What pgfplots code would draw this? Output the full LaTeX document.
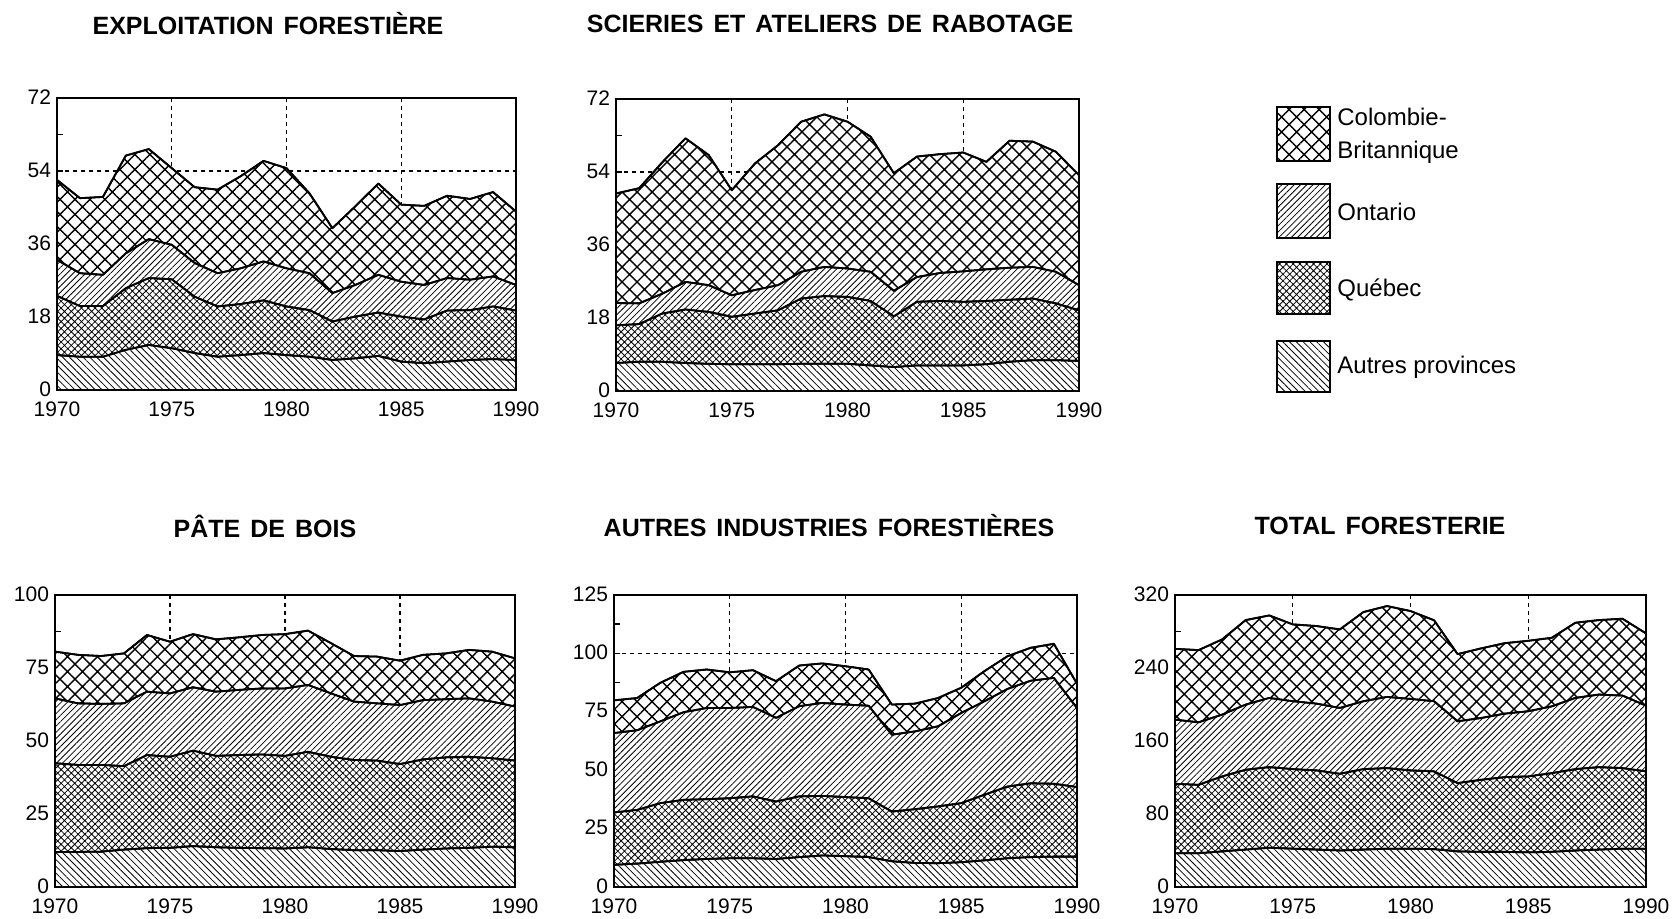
\documentclass[border=0pt]{standalone}
\usepackage{fontspec}
\setmainfont{Liberation Sans}
\usepackage{pgfplots}
\usepackage{pgfplotstable}
\pgfplotsset{compat=1.18}
\usetikzlibrary{patterns.meta}

% cumulative tops of the bands:
% ap = Autres provinces, qc = + Quebec, on = + Ontario, cb = + Colombie-Britannique (total)
\pgfplotstableread{
year cb on qc ap
1970 51.8 32.1 23.2 8.6
1971 47.3 28.8 20.7 8.2
1972 47.6 28.4 20.7 8.2
1973 57.8 33.7 25.1 9.9
1974 59.4 37.2 27.6 11.1
1975 54.7 35.8 27.3 10.3
1976 50.0 31.3 23.0 9.1
1977 49.4 28.8 20.6 8.2
1978 52.7 30.0 21.2 8.6
1979 56.5 31.7 22.1 9.1
1980 54.7 30.0 20.6 8.6
1981 48.5 28.8 19.7 8.2
1982 39.9 23.9 16.9 7.4
1983 45.3 25.9 18.1 7.8
1984 50.9 28.4 19.1 8.4
1985 45.7 26.7 18.1 7.0
1986 45.4 25.9 17.4 6.6
1987 47.9 27.6 19.6 7.0
1988 47.1 27.2 19.7 7.4
1989 48.8 28.0 20.6 7.6
1990 44.0 25.9 19.6 7.4
}\exploit

\pgfplotstableread{
year cb on qc ap
1970 48.7 21.7 16.2 6.9
1971 50.0 21.6 16.5 7.2
1972 56.4 24.0 19.1 7.2
1973 62.3 26.9 20.1 6.9
1974 58.2 26.1 19.5 6.7
1975 49.5 23.6 18.3 6.6
1976 56.1 24.9 19.1 6.6
1977 60.6 26.1 19.9 6.6
1978 66.4 29.4 22.8 6.7
1979 68.2 30.6 23.4 6.7
1980 66.4 30.2 23.2 6.7
1981 62.7 29.4 22.2 6.3
1982 53.7 24.7 18.4 5.9
1983 57.8 28.1 22.0 6.3
1984 58.4 29.1 22.2 6.3
1985 58.8 29.5 22.0 6.3
1986 56.5 30.0 22.2 6.6
1987 61.7 30.4 22.5 7.2
1988 61.5 30.6 22.8 7.6
1989 59.0 29.4 21.6 7.6
1990 53.2 26.1 19.9 7.4
}\scieries

\pgfplotstableread{
year cb on qc ap
1970 80.6 64.6 42.4 12.0
1971 79.5 62.9 41.8 12.0
1972 79.1 62.7 41.8 12.1
1973 80.0 62.9 41.4 12.8
1974 86.3 66.9 45.2 13.3
1975 84.0 66.3 44.6 13.4
1976 86.6 68.4 46.7 14.0
1977 84.8 66.9 44.9 13.6
1978 85.5 67.5 45.2 13.4
1979 86.3 68.0 45.4 13.3
1980 86.6 68.0 44.9 13.2
1981 87.8 69.2 46.3 13.6
1982 83.5 66.3 44.6 13.0
1983 79.1 63.5 43.5 12.6
1984 78.9 62.9 43.3 12.6
1985 77.5 62.3 42.1 12.3
1986 79.5 64.0 43.7 12.8
1987 80.0 64.3 44.4 13.2
1988 81.2 64.6 44.6 13.4
1989 80.6 63.5 44.1 13.8
1990 78.3 61.8 43.3 13.6
}\pate

\pgfplotstableread{
year cb on qc ap
1970 79.9 65.9 31.9 9.5
1971 80.9 67.1 33.0 10.0
1972 87.4 70.9 35.9 10.8
1973 92.1 74.8 37.3 11.5
1974 93.1 76.6 37.6 12.0
1975 91.9 76.6 38.0 12.3
1976 92.8 77.1 38.8 12.3
1977 88.1 72.4 36.6 12.0
1978 94.8 77.4 38.8 12.8
1979 95.7 78.8 39.0 13.5
1980 94.5 78.1 38.5 13.2
1981 93.1 77.6 38.0 12.8
1982 78.1 65.2 32.3 11.0
1983 78.5 66.6 33.3 10.3
1984 80.9 68.8 34.5 10.2
1985 85.3 74.5 35.9 10.6
1986 92.4 79.5 39.5 11.4
1987 98.8 84.8 43.0 12.3
1988 102.4 88.3 44.4 12.8
1989 104.1 89.5 44.2 13.0
1990 87.0 76.6 42.8 13.0
}\autres

\pgfplotstableread{
year cb on qc ap
1970 261.0 183.4 113.1 37.0
1971 259.6 180.5 112.0 37.0
1972 271.3 188.9 121.2 39.0
1973 292.5 199.9 128.5 41.0
1974 297.6 207.2 131.4 43.0
1975 287.8 203.6 129.2 42.0
1976 286.0 201.0 127.8 41.0
1977 282.3 196.2 124.1 40.0
1978 301.3 203.6 129.2 41.0
1979 307.9 208.3 130.3 42.0
1980 302.4 206.1 127.8 42.0
1981 292.3 203.6 126.7 41.5
1982 255.2 181.6 113.9 39.0
1983 261.5 185.2 117.5 38.5
1984 267.2 190.0 120.4 38.5
1985 269.8 192.6 121.2 38.0
1986 273.1 198.0 124.8 38.5
1987 289.6 207.2 129.2 40.0
1988 292.5 210.9 131.4 41.0
1989 294.0 209.8 130.3 42.0
1990 277.9 198.8 126.7 42.0
}\total

\tikzset{
  pcb/.style={pattern={Hatch[angle=45,distance=5.3pt,line width=0.7pt]}},
  pon/.style={pattern={Lines[angle=45,distance=2.2pt,line width=0.4pt]}},
  pqc/.style={pattern={Hatch[angle=45,distance=2.4pt,line width=0.4pt]}},
  pap/.style={pattern={Lines[angle=-45,distance=2.4pt,line width=0.4pt]}},
  band/.style={draw=black, line width=0.9pt, line join=round, fill=white, postaction={#1}},
}

\pgfplotsset{
  panel/.style={
    scale only axis, anchor=south west, height=146pt,
    xmin=1970, xmax=1990, ymin=0,
    xtick={1970,1975,...,1990},
    minor y tick num=1,
    grid=major,
    major grid style={black, line width=0.7pt, dash pattern=on 2pt off 2pt},
    axis line style={line width=1pt},
    tick align=inside, xtick pos=bottom, ytick pos=left,
    major tick length=3pt, minor tick length=3pt,
    tick style={black, line width=0.7pt},
    tick label style={font=\fontsize{10.5}{12}\selectfont},
    xticklabel style={yshift=-2.5pt},
    yticklabel style={xshift=0.5pt, yshift=0.5pt},
    /pgf/number format/1000 sep={},
    /pgf/number format/assume math mode=true,
    clip=false,
  },
}

\newcommand\bands[1]{%
  \addplot[band=pcb] table[x=year,y=cb]{#1} \closedcycle;
  \addplot[band=pon] table[x=year,y=on]{#1} \closedcycle;
  \addplot[band=pqc] table[x=year,y=qc]{#1} \closedcycle;
  \addplot[band=pap] table[x=year,y=ap]{#1} \closedcycle;
}

\newcommand\titlefont{\fontsize{12.5}{15}\selectfont\bfseries\spaceskip=5pt\relax}

\begin{document}
\begin{tikzpicture}
\useasboundingbox (0,0) rectangle (837pt,459.5pt);

\begin{axis}[panel, at={(28.5pt,264.5pt)}, width=229.5pt, ymax=72, ytick={0,18,...,72}]
\bands{\exploit}
\end{axis}

\begin{axis}[panel, at={(308pt,264pt)}, width=231.5pt, ymax=72, ytick={0,18,...,72}]
\bands{\scieries}
\end{axis}

\begin{axis}[panel, at={(27.5pt,16pt)}, width=230pt, ymax=100, ytick={0,25,...,100}]
\bands{\pate}
\end{axis}

\begin{axis}[panel, at={(307pt,16pt)}, width=231.5pt, ymax=125, ytick={0,25,...,125}]
\bands{\autres}
\end{axis}

\begin{axis}[panel, at={(587.5pt,16pt)}, width=235.5pt, ymax=320, ytick={0,80,...,320}]
\bands{\total}
\end{axis}

\node[font=\titlefont] at (134pt,447.5pt) {EXPLOITATION FORESTIÈRE};
\node[font=\titlefont] at (415pt,447.5pt) {SCIERIES ET ATELIERS DE RABOTAGE};
\node[font=\titlefont] at (132.5pt,196.5pt) {PÂTE DE BOIS};
\node[font=\titlefont] at (414.5pt,196.5pt) {AUTRES INDUSTRIES FORESTIÈRES};
\node[font=\titlefont] at (690pt,196.5pt) {TOTAL FORESTERIE};

% legend
\draw[line width=1pt, fill=white, postaction={pcb}] (638.5pt,379pt) rectangle (665pt,406pt);
\draw[line width=1pt, fill=white, postaction={pon}] (638.5pt,340.5pt) rectangle (665pt,367.5pt);
\draw[line width=1pt, fill=white, postaction={pqc}] (638.5pt,302.5pt) rectangle (665pt,328.5pt);
\draw[line width=1pt, fill=white, postaction={pap}] (638.5pt,263.5pt) rectangle (665pt,289pt);
\begin{scope}[every node/.style={anchor=west, inner sep=0pt, font=\fontsize{12}{14}\selectfont}]
\node at (668.5pt,401pt) {Colombie-};
\node at (668.5pt,383.5pt) {Britannique};
\node at (668.5pt,353.5pt) {Ontario};
\node at (668.5pt,314.5pt) {Québec};
\node at (668.5pt,276pt) {Autres provinces};
\end{scope}
\end{tikzpicture}
\end{document}
